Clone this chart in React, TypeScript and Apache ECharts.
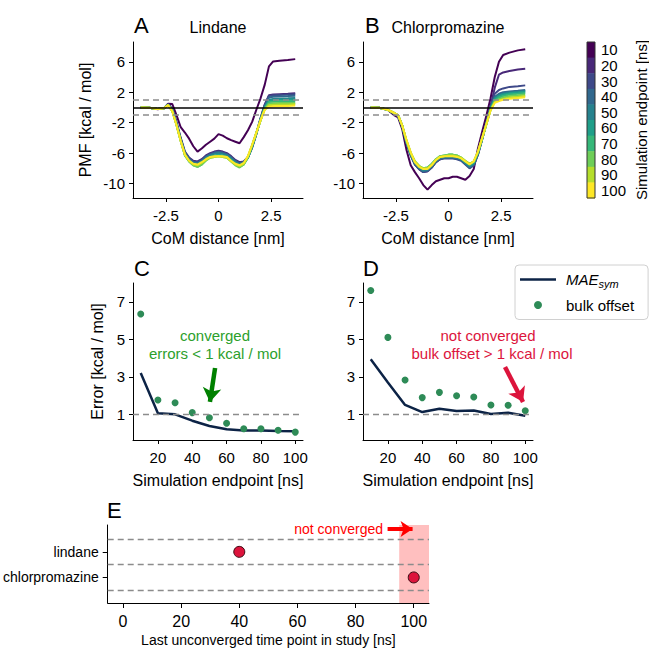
import React, { useEffect, useRef } from 'react';
import * as echarts from 'echarts';

// ---------------- DATA ----------------
const comGrid = [-3.7, -3.3, -2.9, -2.6, -2.4, -2.2, -2.0, -1.8, -1.6, -1.4, -1.2, -1.0, -0.8, -0.6, -0.4, -0.2, 0, 0.2, 0.4, 0.6, 0.8, 1.0, 1.2, 1.4, 1.6, 1.8, 2.0, 2.2, 2.4, 2.6, 2.9, 3.3, 3.65];
const endpoints = [10, 20, 30, 40, 50, 60, 70, 80, 90, 100];

const lindanePMF = [
  [0.0, -0.05, -0.25, -0.15, 0.5, 0.45, -1.0, -2.6, -3.3, -4.1, -5.1, -5.8, -5.4, -4.9, -4.5, -4.1, -3.5, -3.7, -4.05, -4.3, -4.5, -4.7, -3.9, -3.0, -1.9, -0.3, 1.2, 3.0, 5.4, 6.05, 6.15, 6.25, 6.35],
  [0.0, -0.05, -0.2, -0.1, 0.45, -0.2, -1.9, -4.0, -5.8, -6.6, -7.0, -7.1, -6.8, -6.3, -6.0, -5.8, -5.7, -5.8, -6.0, -6.4, -6.9, -7.2, -7.1, -6.5, -5.2, -3.4, -1.4, 0.4, 1.6, 1.7, 1.75, 1.8, 1.85],
  [0.0, -0.05, -0.2, -0.1, 0.4, -0.25, -2.0, -4.1, -5.9, -6.7, -7.1, -7.2, -6.9, -6.4, -6.1, -5.9, -5.8, -5.9, -6.1, -6.5, -7.0, -7.3, -7.2, -6.6, -5.3, -3.5, -1.5, 0.3, 1.5, 1.6, 1.65, 1.7, 1.75],
  [0.0, -0.05, -0.2, -0.1, 0.4, -0.3, -2.1, -4.2, -6.0, -6.8, -7.2, -7.3, -7.0, -6.5, -6.2, -6.0, -5.9, -6.0, -6.2, -6.6, -7.1, -7.4, -7.2, -6.6, -5.2, -3.5, -1.5, 0.2, 1.3, 1.4, 1.45, 1.5, 1.55],
  [0.0, -0.05, -0.2, -0.1, 0.35, -0.35, -2.2, -4.3, -6.1, -6.9, -7.3, -7.4, -7.1, -6.6, -6.3, -6.1, -6.0, -6.1, -6.3, -6.7, -7.2, -7.5, -7.3, -6.6, -5.1, -3.4, -1.6, 0.1, 1.0, 1.1, 1.15, 1.2, 1.25],
  [0.0, -0.05, -0.2, -0.1, 0.35, -0.4, -2.2, -4.3, -6.2, -7.0, -7.5, -7.6, -7.3, -6.8, -6.5, -6.3, -6.2, -6.3, -6.5, -6.9, -7.4, -7.7, -7.4, -6.6, -5.1, -3.4, -1.6, 0.0, 0.85, 0.95, 1.0, 1.0, 1.05],
  [0.0, -0.05, -0.2, -0.1, 0.3, -0.45, -2.3, -4.4, -6.3, -7.1, -7.6, -7.8, -7.5, -6.9, -6.6, -6.4, -6.3, -6.4, -6.6, -7.0, -7.5, -7.8, -7.5, -6.6, -5.0, -3.4, -1.7, -0.1, 0.7, 0.75, 0.8, 0.8, 0.85],
  [0.0, -0.05, -0.2, -0.1, 0.3, -0.45, -2.3, -4.4, -6.3, -7.1, -7.6, -7.8, -7.5, -7.0, -6.6, -6.5, -6.4, -6.5, -6.6, -7.1, -7.6, -7.9, -7.5, -6.5, -5.0, -3.3, -1.7, -0.2, 0.5, 0.55, 0.6, 0.6, 0.6],
  [0.0, -0.05, -0.2, -0.1, 0.3, -0.5, -2.3, -4.4, -6.2, -7.0, -7.5, -7.6, -7.3, -6.9, -6.6, -6.5, -6.4, -6.5, -6.6, -7.1, -7.5, -7.7, -7.4, -6.4, -4.9, -3.3, -1.7, -0.3, 0.3, 0.35, 0.4, 0.4, 0.45],
  [0.0, -0.05, -0.2, -0.1, 0.3, -0.5, -2.3, -4.4, -6.2, -7.0, -7.4, -7.5, -7.2, -6.8, -6.5, -6.4, -6.4, -6.4, -6.5, -7.0, -7.4, -7.6, -7.3, -6.4, -4.9, -3.3, -1.7, -0.3, 0.1, 0.15, 0.2, 0.2, 0.25],
];

const chlorpromazinePMF = [
  [0.0, -0.05, -0.3, -1.0, -1.3, -2.9, -5.6, -7.6, -8.5, -9.3, -10.2, -10.8, -10.2, -9.7, -9.5, -9.3, -9.3, -9.1, -9.1, -9.3, -9.5, -9.0, -8.1, -5.4, -3.2, -1.1, 1.2, 4.0, 6.0, 6.9, 7.2, 7.5, 7.65],
  [0.0, -0.05, -0.3, -0.8, -1.1, -2.5, -4.7, -6.3, -7.5, -8.1, -8.5, -8.4, -7.9, -7.2, -6.8, -6.6, -6.6, -6.6, -6.7, -6.9, -7.4, -7.9, -7.6, -6.2, -4.1, -2.0, 0.2, 2.6, 4.3, 4.6, 4.8, 5.0, 5.1],
  [0.0, -0.05, -0.3, -0.8, -1.1, -2.5, -4.7, -6.3, -7.5, -8.1, -8.5, -8.4, -7.9, -7.2, -6.8, -6.7, -6.7, -6.7, -6.8, -7.0, -7.5, -8.0, -7.6, -6.2, -4.2, -2.0, 0.1, 1.8, 2.3, 2.5, 2.7, 2.8, 2.9],
  [0.0, -0.05, -0.3, -0.8, -1.1, -2.5, -4.6, -6.2, -7.4, -8.0, -8.4, -8.3, -7.8, -7.1, -6.7, -6.6, -6.6, -6.6, -6.7, -6.9, -7.4, -7.9, -7.5, -6.1, -4.2, -2.1, 0.0, 1.4, 1.8, 2.0, 2.1, 2.2, 2.3],
  [0.0, -0.05, -0.3, -0.75, -1.05, -2.45, -4.6, -6.2, -7.3, -7.9, -8.3, -8.2, -7.7, -7.0, -6.6, -6.5, -6.5, -6.5, -6.6, -6.8, -7.3, -7.8, -7.4, -6.0, -4.1, -2.1, -0.1, 1.2, 1.6, 1.8, 1.95, 2.05, 2.15],
  [0.0, -0.05, -0.3, -0.75, -1.05, -2.4, -4.5, -6.1, -7.2, -7.8, -8.1, -8.0, -7.5, -6.9, -6.5, -6.4, -6.3, -6.3, -6.4, -6.7, -7.2, -7.6, -7.3, -6.0, -4.1, -2.2, -0.2, 1.1, 1.5, 1.7, 1.85, 1.95, 2.05],
  [0.0, -0.05, -0.3, -0.7, -1.0, -2.4, -4.4, -6.0, -7.1, -7.7, -8.0, -7.9, -7.4, -6.8, -6.4, -6.3, -6.2, -6.2, -6.3, -6.6, -7.1, -7.5, -7.2, -5.9, -4.1, -2.2, -0.3, 0.9, 1.3, 1.5, 1.7, 1.8, 1.9],
  [0.0, -0.05, -0.3, -0.7, -1.0, -2.4, -4.4, -6.0, -7.1, -7.7, -8.0, -7.9, -7.5, -6.8, -6.4, -6.3, -6.2, -6.2, -6.3, -6.6, -7.0, -7.4, -7.1, -5.9, -4.1, -2.2, -0.3, 0.8, 1.1, 1.3, 1.5, 1.6, 1.7],
  [0.0, -0.05, -0.3, -0.7, -1.0, -2.4, -4.3, -5.9, -7.1, -7.7, -8.0, -8.0, -7.5, -6.9, -6.5, -6.4, -6.3, -6.3, -6.4, -6.6, -7.0, -7.4, -7.1, -5.8, -4.0, -2.2, -0.35, 0.7, 0.95, 1.1, 1.3, 1.4, 1.5],
  [0.0, -0.05, -0.3, -0.7, -1.0, -2.4, -4.3, -5.9, -7.2, -7.8, -8.1, -8.1, -7.6, -6.9, -6.5, -6.4, -6.4, -6.4, -6.5, -6.7, -7.1, -7.5, -7.1, -5.8, -4.0, -2.2, -0.4, 0.6, 0.85, 1.0, 1.15, 1.25, 1.35],
];

const pmfTicks = [-10, -6, -2, 2, 6];
const distanceTicks = [-2.5, 0, 2.5];

const maeLindane = [3.2, 1.05, 1.0, 0.66, 0.38, 0.2, 0.13, 0.13, 0.11, 0.1];
const bulkLindane = [6.35, 1.76, 1.62, 1.09, 0.82, 0.52, 0.23, 0.23, 0.15, 0.05];
const maeChlorpromazine = [3.93, 2.7, 1.5, 1.12, 1.3, 1.18, 1.2, 1.02, 1.08, 0.92];
const bulkChlorpromazine = [7.6, 5.1, 2.83, 1.89, 2.17, 1.99, 1.92, 1.5, 1.48, 1.19];
const errorTicks = [1, 3, 5, 7];
const endpointTicks = [20, 40, 60, 80, 100];

const studies = ['lindane', 'chlorpromazine'];
const lastUnconverged = [40, 100];
const studyTicks = [0, 20, 40, 60, 80, 100];

const viridis10 = ['#440154', '#482878', '#3e4989', '#31688e', '#26828e', '#1f9e89', '#35b779', '#6ece58', '#b5de2b', '#fde725'];

// ---------------- STYLE ----------------
const FONT = '"Liberation Sans", Arial, Helvetica, sans-serif';
const NAVY = '#0c2346';
const SEAGREEN = '#2e8b57';
const CRIMSON = '#dc143c';

function valueAxis(o: any) {
  return {
    type: 'value',
    gridIndex: o.grid,
    min: o.min,
    max: o.max,
    inverse: !!o.inverse,
    name: o.name || '',
    nameLocation: 'middle',
    nameGap: o.nameGap || 30,
    nameTextStyle: { color: '#000', fontSize: o.nameSize || 16, fontFamily: FONT },
    axisLine: { show: true, onZero: false, lineStyle: { color: '#000', width: 1 } },
    axisTick: { show: true, inside: false, length: o.tickLen || 4, customValues: o.ticks, lineStyle: { color: '#000', width: 1 } },
    axisLabel: {
      show: true,
      customValues: o.ticks,
      color: '#000',
      fontSize: o.labelSize || 15,
      fontFamily: FONT,
      margin: o.margin || 8,
      formatter: o.formatter,
    },
    splitLine: { show: false },
  };
}

const PMF_MIN = -11.9, PMF_MAX = 8.6;
const DIST_MIN = -4.07, DIST_MAX = 4.02;
const ERR_MIN = -0.37, ERR_MAX = 8.0;
const END_MIN = 5.5, END_MAX = 104.5;

function pmfSeries(curves: number[][], idx: number) {
  return curves.map((c, i) => ({
    type: 'line',
    xAxisIndex: idx,
    yAxisIndex: idx,
    data: comGrid.map((x, j) => [x, c[j]]),
    symbol: 'none',
    showSymbol: false,
    silent: true,
    z: 3,
    lineStyle: { color: viridis10[i], width: 2 },
  }));
}

function refLines(idx: number) {
  return {
    type: 'line',
    xAxisIndex: idx,
    yAxisIndex: idx,
    data: [],
    z: 1,
    silent: true,
    markLine: {
      silent: true,
      symbol: 'none',
      label: { show: false },
      data: [
        { yAxis: 0, lineStyle: { color: '#000', type: 'solid', width: 1.5 } },
        { yAxis: 1, lineStyle: { color: '#8c8c8c', type: [6, 4], width: 1.5 } },
        { yAxis: -1, lineStyle: { color: '#8c8c8c', type: [6, 4], width: 1.5 } },
      ],
    },
  };
}

function oneLine(idx: number) {
  return {
    type: 'line',
    xAxisIndex: idx,
    yAxisIndex: idx,
    data: [],
    z: 1,
    silent: true,
    markLine: {
      silent: true,
      symbol: 'none',
      label: { show: false },
      data: [{ yAxis: 1, lineStyle: { color: '#8c8c8c', type: [6, 4], width: 1.3 } }],
    },
  };
}

function arrow(idx: number, from: number[], to: number[], color: string, width: number, size: number) {
  return {
    type: 'line',
    xAxisIndex: idx,
    yAxisIndex: idx,
    data: [],
    z: 6,
    silent: true,
    markLine: {
      silent: true,
      symbol: ['none', 'arrow'],
      symbolSize: size,
      label: { show: false },
      lineStyle: { color, width, type: 'solid' },
      data: [[{ coord: from }, { coord: to }]],
    },
  };
}

function errorSeries(idx: number, mae: number[], bulk: number[]) {
  return [
    {
      type: 'line',
      name: 'MAE_sym',
      xAxisIndex: idx,
      yAxisIndex: idx,
      data: endpoints.map((e, i) => [e, mae[i]]),
      symbol: 'none',
      showSymbol: false,
      z: 3,
      lineStyle: { color: NAVY, width: 2.5 },
      itemStyle: { color: NAVY },
    },
    {
      type: 'scatter',
      name: 'bulk offset',
      xAxisIndex: idx,
      yAxisIndex: idx,
      data: endpoints.map((e, i) => [e, bulk[i]]),
      symbolSize: 7,
      z: 4,
      itemStyle: { color: SEAGREEN, opacity: 1 },
    },
  ];
}

function txt(text: string, x: number, y: number, size: number, color = '#000', align = 'left', extra: any = {}) {
  return {
    type: 'text',
    x,
    y,
    silent: true,
    z: 10,
    ...extra,
    style: {
      text,
      fill: color,
      fontSize: size,
      fontFamily: FONT,
      align,
      textAlign: align,
      verticalAlign: 'middle',
      textVerticalAlign: 'middle',
    },
  };
}

// colorbar geometry
const CB_X = 587, CB_Y = 42, CB_W = 8, CB_H = 156;
const cbBin = CB_H / endpoints.length;

const graphics: any[] = [
  txt('A', 134, 25, 22),
  txt('Lindane', 218, 27, 16, '#000', 'center'),
  txt('B', 365, 25, 22),
  txt('Chlorpromazine', 448, 27, 16, '#000', 'center'),
  txt('C', 134, 268, 22),
  txt('D', 363, 268, 22),
  txt('E', 107, 510, 22),
  txt('converged', 215, 335, 15, '#2ca02c', 'center'),
  txt('errors < 1 kcal / mol', 215, 353, 15, '#2ca02c', 'center'),
  txt('not converged', 488, 335, 15, CRIMSON, 'center'),
  txt('bulk offset > 1 kcal / mol', 492, 353, 15, CRIMSON, 'center'),
  txt('not converged', 383, 529, 14, '#ff0000', 'right'),
  ...endpoints.map((e, i) => ({
    type: 'rect',
    silent: true,
    shape: { x: CB_X, y: CB_Y + i * cbBin, width: CB_W, height: cbBin + 0.5 },
    style: { fill: viridis10[i] },
  })),
  {
    type: 'rect',
    silent: true,
    shape: { x: CB_X, y: CB_Y, width: CB_W, height: CB_H },
    style: { fill: 'none', stroke: '#333', lineWidth: 1 },
  },
  ...endpoints.map((e, i) => txt(String(e), CB_X + CB_W + 6, CB_Y + (i + 0.5) * cbBin, 15)),
  txt('Simulation endpoint [ns]', 641, CB_Y + CB_H / 2, 15, '#000', 'center', { rotation: Math.PI / 2 }),
];

const option: any = {
  animation: false,
  backgroundColor: '#ffffff',
  textStyle: { fontFamily: FONT },
  grid: [
    { left: 133, top: 42, width: 170, height: 156 },
    { left: 363, top: 42, width: 170, height: 156 },
    { left: 133, top: 283, width: 170, height: 157 },
    { left: 363, top: 283, width: 170, height: 157 },
    { left: 107, top: 525, width: 322, height: 78 },
  ],
  xAxis: [
    valueAxis({ grid: 0, min: DIST_MIN, max: DIST_MAX, ticks: distanceTicks, name: 'CoM distance [nm]', nameGap: 32, margin: 10 }),
    valueAxis({ grid: 1, min: DIST_MIN, max: DIST_MAX, ticks: distanceTicks, name: 'CoM distance [nm]', nameGap: 32, margin: 10 }),
    valueAxis({ grid: 2, min: END_MIN, max: END_MAX, ticks: endpointTicks, name: 'Simulation endpoint [ns]', nameGap: 32, margin: 10 }),
    valueAxis({ grid: 3, min: END_MIN, max: END_MAX, ticks: endpointTicks, name: 'Simulation endpoint [ns]', nameGap: 32, margin: 10 }),
    valueAxis({ grid: 4, min: -5.25, max: 105.25, ticks: studyTicks, name: 'Last unconverged time point in study [ns]', nameGap: 30, nameSize: 14, labelSize: 16, margin: 10, tickLen: 5 }),
  ],
  yAxis: [
    valueAxis({ grid: 0, min: PMF_MIN, max: PMF_MAX, ticks: pmfTicks, name: 'PMF [kcal / mol]', nameGap: 40 }),
    valueAxis({ grid: 1, min: PMF_MIN, max: PMF_MAX, ticks: pmfTicks }),
    valueAxis({ grid: 2, min: ERR_MIN, max: ERR_MAX, ticks: errorTicks, name: 'Error [kcal / mol]', nameGap: 28 }),
    valueAxis({ grid: 3, min: ERR_MIN, max: ERR_MAX, ticks: errorTicks }),
    valueAxis({
      grid: 4, min: -1.05, max: 2.0, inverse: true, ticks: [0, 1], labelSize: 14, margin: 9, tickLen: 5,
      formatter: (v: number) => studies[Math.round(v)] ?? '',
    }),
  ],
  legend: {
    left: 515,
    top: 265,
    orient: 'vertical',
    data: [
      { name: 'MAE_sym', icon: 'path://M0,0 L36,0 L36,2.5 L0,2.5 Z' },
      { name: 'bulk offset', icon: 'circle' },
    ],
    itemWidth: 36,
    itemHeight: 8,
    itemGap: 8,
    padding: [7, 14, 7, 5],
    borderColor: '#d0d0d0',
    borderWidth: 1,
    borderRadius: 4,
    backgroundColor: '#fff',
    selectedMode: false,
    formatter: (name: string) => (name === 'MAE_sym' ? '{i|MAE}{s|sym}' : name),
    textStyle: {
      color: '#000',
      fontSize: 15,
      fontFamily: FONT,
      padding: [0, 0, 0, 5],
      rich: {
        i: { fontStyle: 'italic', fontSize: 15, fontFamily: FONT, color: '#000' },
        s: { fontStyle: 'italic', fontSize: 11, fontFamily: FONT, color: '#000', padding: [9, 0, 0, 0] },
      },
    },
  },
  series: [
    refLines(0),
    refLines(1),
    ...pmfSeries(lindanePMF, 0),
    ...pmfSeries(chlorpromazinePMF, 1),
    oneLine(2),
    oneLine(3),
    ...errorSeries(2, maeLindane, bulkLindane),
    ...errorSeries(3, maeChlorpromazine, bulkChlorpromazine),
    arrow(2, [53.3, 3.47], [50.3, 1.66], '#008000', 4.5, 14),
    arrow(3, [88.2, 3.52], [98.7, 1.66], CRIMSON, 4.5, 14),
    {
      type: 'scatter',
      xAxisIndex: 4,
      yAxisIndex: 4,
      data: studies.map((s, i) => [lastUnconverged[i], i]),
      symbolSize: 11,
      z: 5,
      itemStyle: { color: CRIMSON, borderColor: '#3a0a12', borderWidth: 1, opacity: 1 },
      markArea: {
        silent: true,
        itemStyle: { color: 'rgba(255,0,0,0.25)' },
        data: [[{ xAxis: 95 }, { xAxis: 105.25 }]],
      },
    },
    {
      type: 'line',
      xAxisIndex: 4,
      yAxisIndex: 4,
      data: [],
      z: 2,
      silent: true,
      markLine: {
        silent: true,
        symbol: 'none',
        label: { show: false },
        lineStyle: { color: '#8c8c8c', type: [6, 4], width: 1.3 },
        data: [{ yAxis: -0.5 }, { yAxis: 0.5 }, { yAxis: 1.5 }],
      },
    },
    arrow(4, [91, -0.89], [99.6, -0.89], '#ff0000', 4, 12),
  ],
  graphic: graphics,
};

export default function App() {
  const ref = useRef<HTMLDivElement>(null);
  useEffect(() => {
    if (!ref.current) return;
    const chart = echarts.init(ref.current, null, { renderer: 'svg' });
    chart.setOption(option);
    return () => chart.dispose();
  }, []);
  return (
    <div
      ref={ref}
      style={{ position: 'fixed', left: 0, top: 0, width: 649, height: 656, background: '#fff' }}
    />
  );
}
